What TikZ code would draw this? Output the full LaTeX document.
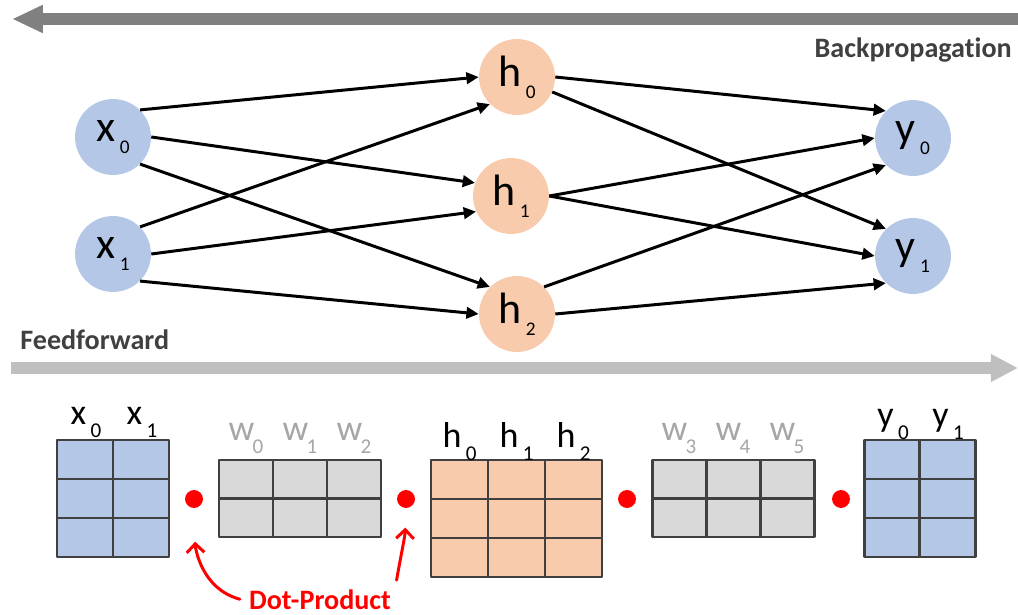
\documentclass[tikz,border=0pt]{standalone}
\usepackage{fontspec}
\setmainfont{Carlito}[Ligatures=NoCommon]
\usetikzlibrary{arrows.meta}
\definecolor{inblue}{HTML}{B4C7E7}
\definecolor{hidorange}{HTML}{F8CBAD}
\definecolor{wgray}{HTML}{D9D9D9}
\definecolor{linegray}{HTML}{404040}
\definecolor{labgray}{HTML}{A6A6A6}
\newcommand\nlab[2]{{\fontsize{25}{27}\selectfont #1}\hspace{2.5pt}\raisebox{-6.8pt}{\fontsize{11}{12}\selectfont #2}}
\newcommand\mlab[3][2.5pt]{{\fontsize{20.5}{22}\selectfont #2}\hspace{#1}\raisebox{-7.4pt}{\fontsize{12}{13}\selectfont #3}}
\begin{document}
\begin{tikzpicture}[x=0.02cm, y=-0.02cm, line join=round,
    neuron/.style={circle, inner sep=0pt, minimum size=43.2pt},
    edge/.style={line width=1.7pt, -{Triangle[length=7pt,width=6.5pt]}},
    mat/.style={draw=linegray, line width=1.7pt},
    dot/.style={circle, fill=red, inner sep=0pt, minimum size=10.2pt},
    pointer/.style={red, line width=1.7pt, line cap=round, -{Straight Barb[length=5pt,width=10pt]}},
    title/.style={font=\fontsize{16}{18}\selectfont\bfseries, text=linegray, inner sep=0pt}]
	\useasboundingbox (0,0) rectangle (1018,615);
	\draw [line width=6.8pt, color=gray!100, -{Triangle[length=17.6pt,width=14.8pt]}] (1018,19)--(12,19);
	\draw [line width=6.8pt, color=black!25, -{Triangle[length=15.4pt,width=14.8pt]}] (11,368)--(1018,368);
	\node [title, anchor=base east] (bp) at (1012,58) {Backpropagation};
	\node [title, anchor=base west] (ff) at (20,349) {Feedforward};
	\node [neuron, fill=inblue] (x0) at (113,137) {\nlab{x}{0}};
	\node [neuron, fill=inblue] (x1) at (113,254) {\nlab{x}{1}};
	\node [neuron, fill=hidorange] (h0) at (517,77) {\nlab{h}{0}};
	\node [neuron, fill=hidorange] (h1) at (511,196) {\nlab{h}{1}};
	\node [neuron, fill=hidorange] (h2) at (517,314) {\nlab{h}{2}};
	\node [neuron, fill=inblue] (y0) at (913,138) {\nlab{y}{0}};
	\node [neuron, fill=inblue] (y1) at (913,256) {\nlab{y}{1}};
	\draw [edge] (x0.45)--(h0.180);
	\draw [edge] (x0.0)--(h1.160);
	\draw [edge] (x0.-45)--(h2.135);
	\draw [edge] (x1.45)--(h0.225);
	\draw [edge] (x1.0)--(h1.204);
	\draw [edge] (x1.-45)--(h2.180);
	\draw [edge] (h0.0)--(y0.135);
	\draw [edge] (h0.-23)--(y1.135);
	\draw [edge] (h1.0)--(y0.180);
	\draw [edge] (h1.0)--(y1.180);
	\draw [edge] (h2.45)--(y0.225);
	\draw [edge] (h2.0)--(y1.225);
	\filldraw [mat, fill=inblue] (57,440) rectangle (169,557);
	\draw [mat] (113,440)--(113,557) (57,479)--(169,479) (57,518)--(169,518);
	\filldraw [mat, fill=wgray] (219,460) rectangle (381,537);
	\draw [mat] (273,460)--(273,537) (327,460)--(327,537) (219,498.5)--(381,498.5);
	\filldraw [mat, fill=hidorange] (431,460) rectangle (602,577);
	\draw [mat] (488,460)--(488,577) (545,460)--(545,577) (431,499)--(602,499) (431,538)--(602,538);
	\filldraw [mat, fill=wgray] (652,460) rectangle (814,537);
	\draw [mat] (706,460)--(706,537) (760,460)--(760,537) (652,498.5)--(814,498.5);
	\filldraw [mat, fill=inblue] (864,440) rectangle (975,557);
	\draw [mat] (919.5,440)--(919.5,557) (864,479)--(975,479) (864,518)--(975,518);
	\node [anchor=base] (lx0) at (86,424) {\mlab{x}{0}};
	\node [anchor=base] (lx1) at (142,424) {\mlab{x}{1}};
	\foreach \c/\i in {246/0, 300/1, 354/2, 679/3, 733/4, 787/5}
		\node [anchor=base, text=labgray] (lw\i) at (\c,440) {\mlab[-1pt]{w}{\i}};
	\foreach \c/\i in {459.5/0, 516.5/1, 573.5/2}
		\node [anchor=base] (lh\i) at (\c,447) {\mlab{h}{\i}};
	\node [anchor=base] (ly0) at (893,426) {\mlab{y}{0}};
	\node [anchor=base] (ly1) at (948,426) {\mlab{y}{1}};
	\node [dot] (d1) at (194,499) {};
	\node [dot] (d2) at (406,499) {};
	\node [dot] (d3) at (627,499) {};
	\node [dot] (d4) at (841,499) {};
	\node [title, text=red, anchor=base] (dp) at (320,609) {Dot-Product};
	\draw [pointer, shorten >=19pt] ([xshift=-5pt]dp.west) to [out=165, in=-88] (d1.south);
	\draw [pointer, shorten >=11pt] ([shift={(3pt,5pt)}]dp.north east) to [out=80, in=-92] (d2.south);
\end{tikzpicture}
\end{document}
